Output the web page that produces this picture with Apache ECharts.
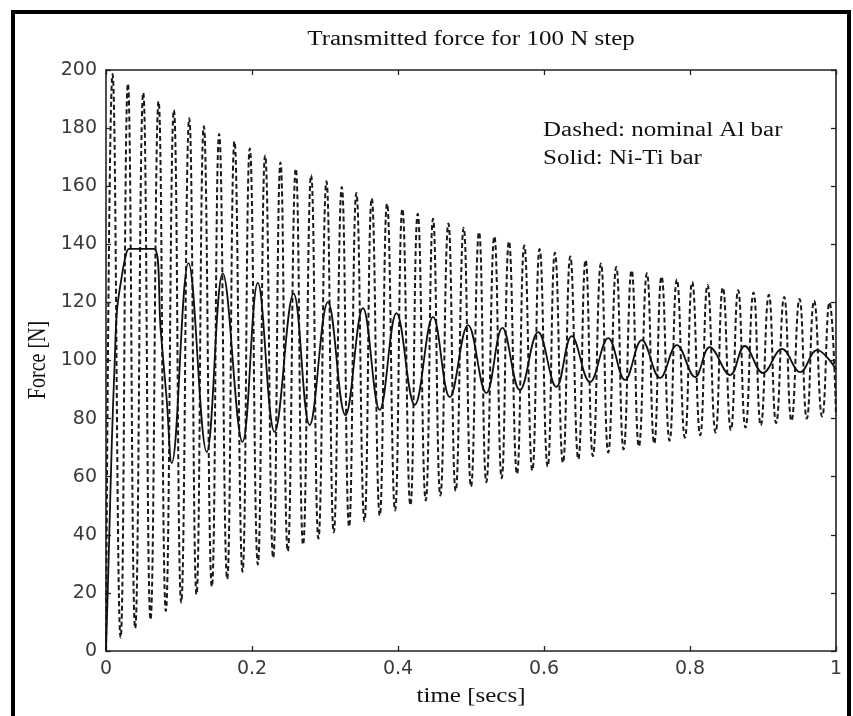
<!DOCTYPE html>
<html>
<head>
<meta charset="utf-8">
<script src="https://cdn.jsdelivr.net/npm/echarts/dist/echarts.min.js"></script>
<style>
html,body{margin:0;padding:0;background:#fff;}
#chart{width:853px;height:716px;}
</style>
</head>
<body>
<div id="chart"></div>
<script>
// ---- data ----
const titleText = 'Transmitted force for 100 N step';
const xName = 'time [secs]';
const yName = 'Force [N]';
const legendLines = ['Dashed: nominal Al bar', 'Solid: Ni-Ti bar'];

const xTicks = [0, 0.2, 0.4, 0.6, 0.8, 1];
const yTicks = [0, 20, 40, 60, 80, 100, 120, 140, 160, 180, 200];

// Dashed: nominal Al bar (successive peaks / troughs)
const alTime = [0, 0.009, 0.020, 0.030, 0.040, 0.051, 0.061, 0.072, 0.082, 0.093, 0.103, 0.114, 0.124, 0.134, 0.145, 0.155, 0.166, 0.176, 0.187, 0.197, 0.208, 0.218, 0.229, 0.239, 0.249, 0.260, 0.270, 0.281, 0.291, 0.302, 0.312, 0.323, 0.333, 0.343, 0.354, 0.364, 0.375, 0.385, 0.396, 0.406, 0.417, 0.427, 0.438, 0.448, 0.458, 0.469, 0.479, 0.490, 0.500, 0.511, 0.521, 0.532, 0.542, 0.552, 0.563, 0.573, 0.584, 0.594, 0.605, 0.615, 0.626, 0.636, 0.647, 0.657, 0.667, 0.678, 0.688, 0.699, 0.709, 0.720, 0.730, 0.741, 0.751, 0.761, 0.772, 0.782, 0.793, 0.803, 0.814, 0.824, 0.835, 0.845, 0.856, 0.866, 0.876, 0.887, 0.897, 0.908, 0.918, 0.929, 0.939, 0.950, 0.960, 0.970, 0.981, 0.991, 1.000];
const alForce = [0,
  198.6, 4.6, 195.3, 7.8, 192.2, 10.8, 189.2, 13.8, 186.2, 16.7,
  183.4, 19.5, 180.6, 22.2, 178.0, 24.8, 175.4, 27.3, 173.0, 29.8,
  170.6, 32.1, 168.2, 34.4, 166.0, 36.6, 163.8, 38.7, 161.7, 40.8,
  159.7, 42.8, 157.7, 44.7, 155.8, 46.6, 154.0, 48.4, 152.2, 50.2,
  150.5, 51.8, 148.8, 53.5, 147.2, 55.1, 145.7, 56.6, 144.2, 58.1,
  142.7, 59.5, 141.0, 60.9, 139.6, 62.2, 138.4, 63.5, 137.1, 64.8,
  135.8, 66.0, 134.6, 67.1, 133.4, 68.3, 132.2, 69.4, 131.0, 70.4,
  130.0, 71.4, 128.9, 72.4, 127.9, 73.4, 127.0, 74.3, 126.0, 75.2,
  125.1, 76.1, 124.2, 76.9, 123.4, 77.7, 122.6, 78.5, 121.9, 79.2,
  121.2, 80.0, 120.6, 80.7, 120.0, 81.0];

// Solid: Ni-Ti bar
const niTime = [0, 0.004, 0.008, 0.012, 0.015, 0.021, 0.027, 0.032, 0.066, 0.075, 0.083, 0.090, 0.113, 0.138, 0.160, 0.187, 0.208, 0.231, 0.257, 0.279, 0.304, 0.328, 0.352, 0.375, 0.398, 0.423, 0.448, 0.471, 0.496, 0.521, 0.543, 0.567, 0.592, 0.617, 0.638, 0.663, 0.688, 0.711, 0.734, 0.759, 0.782, 0.807, 0.827, 0.855, 0.875, 0.900, 0.926, 0.951, 0.974, 1.000];
const niForce = [0, 35, 72, 100, 117, 128, 136, 138.4, 138.4, 110, 87, 64.7, 133.5, 68.5, 130, 72, 126.7, 75.4, 123, 77.8, 120.1, 81.2, 118, 83, 116.3, 84.7, 115, 87.4, 112.2, 88.8, 111.2, 89.8, 109.8, 90.9, 108.4, 92.6, 107.7, 93.3, 107, 94, 105.3, 94.3, 104.6, 95, 105, 95.7, 104, 96, 103.6, 97];

// ---- chart ----
const chart = echarts.init(document.getElementById('chart'), null, {renderer: 'canvas'});

const axisColor = '#222';
const tickFont = {color: '#3a3a3a', fontFamily: 'DejaVu Sans', fontSize: 19};
function xAx(pos, labels) {
  return {
    type: 'value', position: pos, min: xTicks[0], max: xTicks[xTicks.length - 1],
    interval: xTicks[1] - xTicks[0],
    axisLine: {show: true, onZero: false, lineStyle: {color: axisColor, width: 1.6}},
    axisTick: {show: true, inside: true, length: 5, lineStyle: {color: axisColor, width: 1.3}},
    axisLabel: Object.assign({show: labels, margin: 9}, tickFont),
    splitLine: {show: false}
  };
}
function yAx(pos, labels) {
  return {
    type: 'value', position: pos, min: yTicks[0], max: yTicks[yTicks.length - 1],
    interval: yTicks[1] - yTicks[0],
    axisLine: {show: true, onZero: false, lineStyle: {color: axisColor, width: 1.6}},
    axisTick: {show: true, inside: true, length: 5, lineStyle: {color: axisColor, width: 1.3}},
    axisLabel: Object.assign({show: labels, margin: 9}, tickFont),
    splitLine: {show: false}
  };
}

const serifFont = '20px "Liberation Serif", "Times New Roman", serif';
const stretch = 1.25;

chart.setOption({
  animation: false,
  backgroundColor: '#fff',
  grid: {left: 106, top: 70, width: 730, height: 581, containLabel: false},
  xAxis: [xAx('bottom', true), xAx('top', false)],
  yAxis: [yAx('left', true), yAx('right', false)],
  series: [
    {
      name: legendLines[0], type: 'line', xAxisIndex: 0, yAxisIndex: 0,
      data: alTime.map((t, i) => [t, alForce[i]]),
      showSymbol: false, smooth: 0.5, z: 2,
      lineStyle: {color: '#1a1a1a', width: 2, type: [5, 3]}
    },
    {
      name: legendLines[1], type: 'line', xAxisIndex: 0, yAxisIndex: 0,
      data: niTime.map((t, i) => [t, niForce[i]]),
      showSymbol: false, smooth: 0.4, z: 3,
      lineStyle: {color: '#111', width: 1.8, type: 'solid'}
    }
  ],
  graphic: [
    {type: 'rect', silent: true, shape: {x: 13, y: 12, width: 836, height: 760},
     style: {fill: 'none', stroke: '#000', lineWidth: 4}},
    {type: 'text', x: 471, y: 40, scaleX: stretch,
     style: {text: titleText, font: serifFont, fill: '#111', align: 'center', verticalAlign: 'middle'}},
    {type: 'text', x: 543, y: 131, scaleX: stretch,
     style: {text: legendLines[0], font: serifFont, fill: '#111', align: 'left', verticalAlign: 'middle'}},
    {type: 'text', x: 543, y: 159, scaleX: stretch,
     style: {text: legendLines[1], font: serifFont, fill: '#111', align: 'left', verticalAlign: 'middle'}},
    {type: 'text', x: 471, y: 697, scaleX: stretch,
     style: {text: xName, font: serifFont, fill: '#111', align: 'center', verticalAlign: 'middle'}},
    {type: 'text', x: 38, y: 360, rotation: Math.PI / 2, scaleY: stretch,
     style: {text: yName, font: serifFont, fill: '#111', align: 'center', verticalAlign: 'middle'}}
  ]
});
</script>
</body>
</html>
